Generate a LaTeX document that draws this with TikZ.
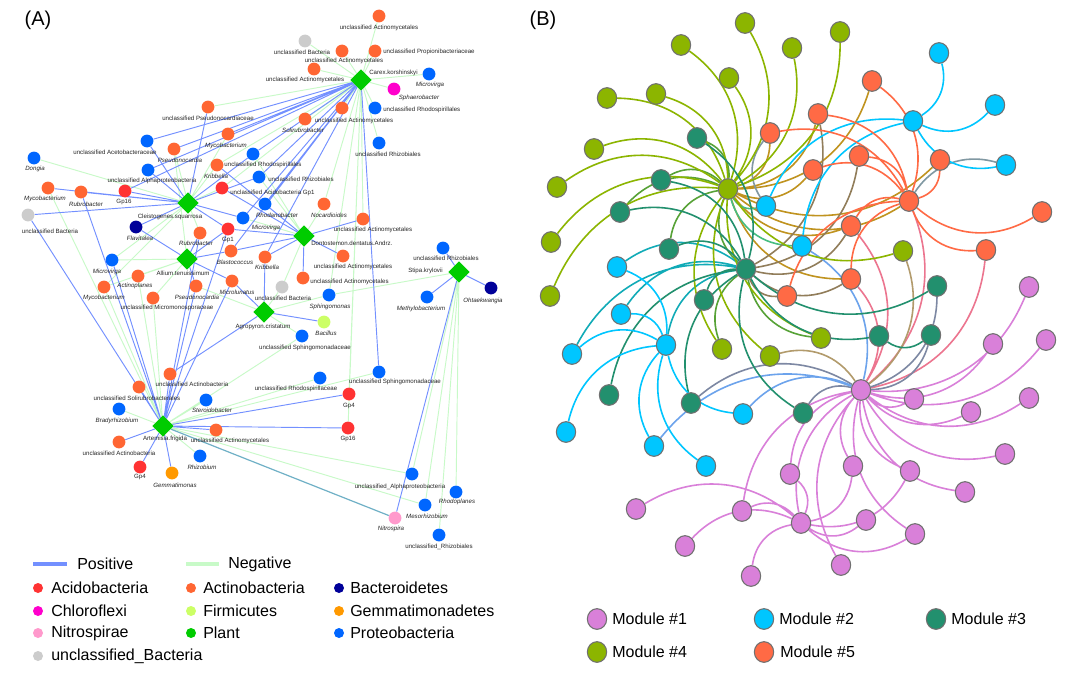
\documentclass[tikz,border=0pt]{standalone}
\usepackage{fontspec}
\setmainfont{Liberation Sans}
\usetikzlibrary{shapes.geometric}
\definecolor{cAcido}{HTML}{FF3333}
\definecolor{cActino}{HTML}{FF6633}
\definecolor{cBactero}{HTML}{000099}
\definecolor{cChloro}{HTML}{FF00CC}
\definecolor{cFirmi}{HTML}{CCFF66}
\definecolor{cGemma}{HTML}{FF9900}
\definecolor{cNitro}{HTML}{FF99CC}
\definecolor{cPlant}{HTML}{00CC00}
\definecolor{cProteo}{HTML}{0066FF}
\definecolor{cUnbac}{HTML}{CCCCCC}
\definecolor{cPos}{HTML}{7390FF}
\definecolor{cNeg}{HTML}{C8FAC8}
\definecolor{cBoth}{HTML}{6FB0C6}
\definecolor{m1}{HTML}{D980D9}
\definecolor{m2}{HTML}{00C6FF}
\definecolor{m3}{HTML}{22906E}
\definecolor{m4}{HTML}{8CB500}
\definecolor{m5}{HTML}{FF6A45}
\definecolor{cBord}{HTML}{707070}
\pgfdeclarelayer{bg}
\pgfsetlayers{bg,main}
\tikzset{
  tx/.style={circle, inner sep=0pt, minimum size=9.6pt},
  acido/.style={tx, fill=cAcido},
  actino/.style={tx, fill=cActino},
  bactero/.style={tx, fill=cBactero},
  chloro/.style={tx, fill=cChloro},
  firmi/.style={tx, fill=cFirmi},
  gemma/.style={tx, fill=cGemma},
  nitro/.style={tx, fill=cNitro},
  proteo/.style={tx, fill=cProteo},
  unbac/.style={tx, fill=cUnbac},
  plant/.style={diamond, aspect=1, inner sep=0pt, minimum size=16pt, fill=cPlant},
  lbl/.style={font=\fontsize{4.6}{5}\selectfont, inner sep=0pt, text=black!85},
  ilbl/.style={lbl, font=\fontsize{4.6}{5}\selectfont\itshape},
  poslink/.style={draw=cPos, line width=0.7pt},
  neglink/.style={draw=cNeg, line width=0.7pt},
  bothlink/.style={draw=cBoth, line width=0.9pt},
  bn/.style={ellipse, draw=cBord, line width=0.8pt, minimum width=14.5pt, minimum height=15.5pt, inner sep=0pt},
  mod1/.style={bn, fill=m1},
  mod2/.style={bn, fill=m2},
  mod3/.style={bn, fill=m3},
  mod4/.style={bn, fill=m4},
  mod5/.style={bn, fill=m5},
  bb/.style={line width=1.2pt},
  leg/.style={font=\fontsize{12}{14}\selectfont, anchor=west, inner sep=0pt},
  dot/.style={circle, inner sep=0pt, minimum size=7.5pt}
}
\begin{document}
\begin{tikzpicture}[x=0.75pt,y=-0.75pt]
\useasboundingbox (0,0) rectangle (1080,685);
\begin{pgfonlayer}{bg}
\fill[white] (0,0) rectangle (1080,685);
\end{pgfonlayer}

% (A) co-occurrence network
\node[font=\fontsize{15}{18}\selectfont] (pa) at (38,20) {(A)};

% plants
\node[plant] (carex) at (361,80) {};
\node[lbl, anchor=west] (carexl) at (369,73) {Carex.korshinskyi};
\node[plant] (cleis) at (188,203) {};
\node[lbl] (cleisl) at (170,217) {Cleistogenes.squarrosa};
\node[plant] (allium) at (187,259) {};
\node[lbl] (alliuml) at (183,273) {Allium.tenuissimum};
\node[plant] (donto) at (304,236) {};
\node[lbl, anchor=west] (dontol) at (311,243) {Dontostemon.dentatus.Andrz.};
\node[plant] (agro) at (264,312) {};
\node[lbl] (agrol) at (263,327) {Agropyron.cristatum};
\node[plant] (stipa) at (459,272) {};
\node[lbl, anchor=east] (stipal) at (443,271) {Stipa.krylovii};
\node[plant] (artem) at (163,426) {};
\node[lbl] (arteml) at (165,439) {Artemisia.frigida};

% taxa round Carex
\node[actino] (a1) at (379,16) {};
\node[lbl] (a1l) at (379,28) {unclassified Actinomycetales};
\node[unbac] (a2) at (305,41) {};
\node[lbl] (a2l) at (302,52) {unclassified Bacteria};
\node[actino] (a3) at (342,51) {};
\node[lbl] (a3l) at (344,61) {unclassified Actinomycetales};
\node[actino] (a4) at (375,51) {};
\node[lbl, anchor=west] (a4l) at (383,52) {unclassified Propionibacteriaceae};
\node[actino] (a5) at (314,69) {};
\node[lbl] (a5l) at (305,80) {unclassified Actinomycetales};
\node[proteo] (a6) at (429,74) {};
\node[ilbl] (a6l) at (430,85) {Microvirga};
\node[chloro] (a7) at (394,89) {};
\node[ilbl] (a7l) at (419,98) {Sphaerobacter};
\node[actino] (a8) at (342,108) {};
\node[lbl] (a8l) at (354,121) {unclassified Actinomycetales};
\node[proteo] (a9) at (375,108) {};
\node[lbl, anchor=west] (a9l) at (383,110) {unclassified Rhodospirillales};
\node[actino] (a10) at (305,119) {};
\node[ilbl] (a10l) at (303,130) {Solirubrobacter};
\node[proteo] (a11) at (379,143) {};
\node[lbl] (a11l) at (388,154) {unclassified Rhizobiales};

% taxa upper left
\node[actino] (b1) at (208,107) {};
\node[lbl] (b1l) at (208,118) {unclassified Pseudonocardiaceae};
\node[actino] (b2) at (228,134) {};
\node[ilbl] (b2l) at (226,146) {Mycobacterium};
\node[proteo] (b3) at (147,141) {};
\node[lbl] (b3l) at (115,152) {unclassified Acetobacteraceae};
\node[actino] (b4) at (174,149) {};
\node[ilbl] (b4l) at (180,160) {Pseudonocardia};
\node[proteo] (b5) at (253,154) {};
\node[lbl] (b5l) at (263,165) {unclassified Rhodospirillales};
\node[actino] (b6) at (217,165) {};
\node[ilbl] (b6l) at (216,176) {Kribbella};
\node[proteo] (b7) at (34,158) {};
\node[ilbl] (b7l) at (35,169) {Dongia};
\node[proteo] (b8) at (148,170) {};
\node[lbl] (b8l) at (152,181) {unclassified Alphaproteobacteria};
\node[proteo] (b9) at (259,177) {};
\node[lbl, anchor=west] (b9l) at (268,179) {unclassified Rhizobiales};
\node[acido] (b10) at (222,188) {};
\node[lbl, anchor=west] (b10l) at (230,193) {unclassified Acidobacteria Gp1};
\node[acido] (b11) at (125,191) {};
\node[lbl] (b11l) at (124,202) {Gp16};
\node[actino] (b12) at (48,188) {};
\node[ilbl] (b12l) at (45,199) {Mycobacterium};
\node[actino] (b13) at (81,192) {};
\node[ilbl] (b13l) at (86,204) {Rubrobacter};
\node[unbac] (b14) at (28,215) {};
\node[lbl] (b14l) at (50,231) {unclassified Bacteria};
\node[proteo] (b15) at (265,204) {};
\node[ilbl] (b15l) at (277,215) {Rhodanobacter};

% taxa in the middle
\node[bactero] (c1) at (136,227) {};
\node[ilbl] (c1l) at (140,238) {Flavitalea};
\node[actino] (c2) at (200,233) {};
\node[ilbl] (c2l) at (196,243) {Rubrobacter};
\node[acido] (c3) at (228,229) {};
\node[lbl] (c3l) at (228,240) {Gp1};
\node[proteo] (c4) at (243,218) {};
\node[ilbl] (c4l) at (266,228) {Microvirga};
\node[actino] (c5) at (231,251) {};
\node[ilbl] (c5l) at (235,262) {Blastococcus};
\node[proteo] (c6) at (112,260) {};
\node[ilbl] (c6l) at (107,272) {Microvirga};
\node[actino] (c7) at (138,276) {};
\node[ilbl] (c7l) at (135,286) {Actinoplanes};
\node[actino] (c8) at (104,287) {};
\node[ilbl] (c8l) at (104,298) {Mycobacterium};
\node[actino] (c9) at (153,298) {};
\node[lbl] (c9l) at (167,308) {unclassified Micromonosporaceae};
\node[actino] (c10) at (196,286) {};
\node[ilbl] (c10l) at (197,297) {Pseudonocardia};
\node[actino] (c11) at (232,281) {};
\node[ilbl] (c11l) at (237,292) {Microlunatus};
\node[actino] (c12) at (324,204) {};
\node[ilbl] (c12l) at (329,215) {Nocardioides};
\node[actino] (c13) at (363,219) {};
\node[lbl] (c13l) at (373,230) {unclassified Actinomycetales};
\node[actino] (c14) at (265,257) {};
\node[ilbl] (c14l) at (267,267) {Kribbella};
\node[actino] (c15) at (343,256) {};
\node[lbl] (c15l) at (353,267) {unclassified Actinomycetales};
\node[actino] (c16) at (303,278) {};
\node[lbl, anchor=west] (c16l) at (310,282) {unclassified Actinomycetales};
\node[unbac] (c17) at (282,287) {};
\node[lbl] (c17l) at (283,298) {unclassified Bacteria};
\node[proteo] (c18) at (329,295) {};
\node[ilbl] (c18l) at (330,307) {Sphingomonas};
\node[firmi] (c19) at (324,322) {};
\node[ilbl] (c19l) at (326,333) {Bacillus};
\node[proteo] (c20) at (302,336) {};
\node[lbl] (c20l) at (305,348) {unclassified Sphingomonadaceae};

% taxa round Stipa
\node[proteo] (d1) at (443,248) {};
\node[lbl] (d1l) at (446,258) {unclassified Rhizobiales};
\node[proteo] (d2) at (427,297) {};
\node[ilbl] (d2l) at (421,309) {Methylobacterium};
\node[bactero] (d3) at (491,288) {};
\node[ilbl] (d3l) at (483,301) {Ohtaekwangia};
\node[proteo] (d4) at (412,474) {};
\node[lbl] (d4l) at (400,487) {unclassified\_Alphaproteobacteria};
\node[proteo] (d5) at (456,492) {};
\node[ilbl] (d5l) at (457,502) {Rhodoplanes};
\node[proteo] (d6) at (425,505) {};
\node[ilbl] (d6l) at (427,516) {Mesorhizobium};
\node[nitro] (d7) at (395,518) {};
\node[ilbl] (d7l) at (391,529) {Nitrospira};
\node[proteo] (d8) at (439,535) {};
\node[lbl] (d8l) at (439,547) {unclassified\_Rhizobiales};

% taxa lower part
\node[proteo] (e1) at (320,378) {};
\node[lbl] (e1l) at (296,389) {unclassified Rhodospirillaceae};
\node[proteo] (e2) at (379,372) {};
\node[lbl] (e2l) at (395,382) {unclassified Sphingomonadaceae};
\node[acido] (e3) at (349,394) {};
\node[lbl] (e3l) at (349,406) {Gp4};
\node[acido] (e4) at (348,428) {};
\node[lbl] (e4l) at (348,439) {Gp16};
\node[actino] (e5) at (170,374) {};
\node[lbl] (e5l) at (192,384) {unclassified Actinobacteria};
\node[actino] (e6) at (139,387) {};
\node[lbl] (e6l) at (137,398) {unclassified Solirubrobacterales};
\node[proteo] (e7) at (206,400) {};
\node[ilbl] (e7l) at (212,410) {Steroidobacter};
\node[proteo] (e8) at (119,409) {};
\node[ilbl] (e8l) at (117,421) {Bradyrhizobium};
\node[actino] (e9) at (216,430) {};
\node[lbl] (e9l) at (230,441) {unclassified Actinomycetales};
\node[actino] (e10) at (119,442) {};
\node[lbl] (e10l) at (119,453) {unclassified Actinobacteria};
\node[proteo] (e11) at (200,456) {};
\node[ilbl] (e11l) at (202,467) {Rhizobium};
\node[acido] (e12) at (140,467) {};
\node[lbl] (e12l) at (140,477) {Gp4};
\node[gemma] (e13) at (172,473) {};
\node[ilbl] (e13l) at (175,485) {Gemmatimonas};

\begin{pgfonlayer}{bg}
% negative links
\draw[neglink] (carex) -- (a1) (carex) -- (a2) (carex) -- (a3) (carex) -- (a4) (carex) -- (a5) (carex) -- (a6) (carex) -- (a7) (carex) -- (a8) (carex) -- (a9) (carex) -- (a10) (carex) -- (a11) (carex) -- (b1) (carex) -- (b6) (carex) -- (b10) (carex) -- (c12) (carex) -- (c13) (carex) -- (e3) (carex) -- (e4) (carex) -- (c18);
\draw[neglink] (cleis) -- (b7) (cleis) -- (b4) (cleis) -- (b6) (cleis) -- (b10) (cleis) -- (c6) (cleis) -- (c8) (cleis) -- (b2) (cleis) -- (c2);
\draw[neglink] (allium) -- (c6) (allium) -- (c7) (allium) -- (c8) (allium) -- (c9) (allium) -- (b4);
\draw[neglink] (donto) -- (c12) (donto) -- (b9) (donto) -- (c4) (donto) -- (c17) (donto) -- (b5);
\draw[neglink] (agro) -- (c17) (agro) -- (c18) (agro) -- (c20) (agro) -- (c10);
\draw[neglink] (stipa) -- (d4) (stipa) -- (d5) (stipa) -- (d6) (stipa) -- (d8) (stipa) -- (c18);
\draw[neglink] (artem) -- (e8) (artem) -- (e11) (artem) -- (e7) (artem) -- (e1) (artem) -- (e2) (artem) -- (d4) (artem) -- (d6) (artem) -- (b12) (artem) -- (c7) (artem) -- (c8) (artem) -- (c9) (artem) -- (c20);
% positive links
\draw[poslink] (carex) -- (b2) (carex) -- (b3) (carex) -- (b4) (carex) -- (b8) (carex) -- (b11) (carex) -- (b5) (carex) -- (b9) (carex) -- (b15) (carex) -- (c4) (carex) -- (c14) (carex) -- (c5) (carex) -- (e2);
\draw[poslink] (cleis) -- (b11) (cleis) -- (b13) (cleis) -- (b12) (cleis) -- (b14) (cleis) -- (c1) (cleis) -- (b1) (cleis) -- (b3) (cleis) -- (b5) (cleis) -- (b9) (cleis) -- (c3) (cleis) -- (c4) (cleis) -- (b8);
\draw[poslink] (allium) -- (c1) (allium) -- (c2) (allium) -- (c5) (allium) -- (c10) (allium) -- (c11) (allium) -- (c3);
\draw[poslink] (donto) -- (c13) (donto) -- (c15) (donto) -- (c14) (donto) -- (c16) (donto) -- (b15) (donto) -- (b10) (donto) -- (c3) (donto) -- (c5) (donto) -- (b6);
\draw[poslink] (agro) -- (c11) (agro) -- (c19) (agro) -- (c14) (agro) -- (e5);
\draw[poslink] (stipa) -- (d1) (stipa) -- (d2) (stipa) -- (d3) (stipa) -- (d7);
\draw[poslink] (artem) -- (e5) (artem) -- (e6) (artem) -- (e10) (artem) -- (e12) (artem) -- (e13) (artem) -- (e9) (artem) -- (e4) (artem) -- (e3) (artem) -- (b14) (artem) -- (b13) (artem) -- (c6) (artem) -- (c2) (artem) -- (c10) (artem) -- (c3) (artem) -- (c11);
\draw[bothlink] (artem) -- (d7);
\end{pgfonlayer}

% legend (A)
\coordinate (lp1) at (33,564);
\coordinate (lp2) at (67,564);
\draw[draw=cPos, line width=3pt] (lp1) -- (lp2);
\node[leg] (lpos) at (77,564) {Positive};
\coordinate (ln1) at (186,564);
\coordinate (ln2) at (219,564);
\draw[draw=cNeg, line width=3pt] (ln1) -- (ln2);
\node[leg] (lneg) at (228,564) {Negative};
\node[dot, fill=cAcido] (k1) at (38,588) {};
\node[leg] (k1t) at (51,588) {Acidobacteria};
\node[dot, fill=cActino] (k2) at (191,588) {};
\node[leg] (k2t) at (203,588) {Actinobacteria};
\node[dot, fill=cBactero] (k3) at (339,588) {};
\node[leg] (k3t) at (350,588) {Bacteroidetes};
\node[dot, fill=cChloro] (k4) at (38,611) {};
\node[leg] (k4t) at (51,611) {Chloroflexi};
\node[dot, fill=cFirmi] (k5) at (191,611) {};
\node[leg] (k5t) at (203,611) {Firmicutes};
\node[dot, fill=cGemma] (k6) at (339,611) {};
\node[leg] (k6t) at (350,611) {Gemmatimonadetes};
\node[dot, fill=cNitro] (k7) at (38,633) {};
\node[leg] (k7t) at (51,633) {Nitrospirae};
\node[dot, fill=cPlant] (k8) at (191,633) {};
\node[leg] (k8t) at (203,633) {Plant};
\node[dot, fill=cProteo] (k9) at (339,633) {};
\node[leg] (k9t) at (350,633) {Proteobacteria};
\node[dot, fill=cUnbac] (k10) at (38,656) {};
\node[leg] (k10t) at (51,656) {unclassified\_Bacteria};

% (B) modules
\node[font=\fontsize{15}{18}\selectfont] (pb) at (543,20) {(B)};

% module 4
\node[mod4] (g0) at (728,189) {};
\node[mod4] (g1) at (745,23) {};
\node[mod4] (g2) at (681,45) {};
\node[mod4] (g3) at (792,48) {};
\node[mod4] (g4) at (840,32) {};
\node[mod4] (g5) at (729,78) {};
\node[mod4] (g6) at (607,98) {};
\node[mod4] (g7) at (656,94) {};
\node[mod4] (g8) at (594,149) {};
\node[mod4] (g9) at (557,187) {};
\node[mod4] (g10) at (551,242) {};
\node[mod4] (g11) at (550,296) {};
\node[mod4] (g12) at (903,251) {};
\node[mod4] (g13) at (722,349) {};
\node[mod4] (g14) at (770,356) {};
\node[mod4] (g15) at (821,338) {};
% module 3
\node[mod3] (t0) at (746,269) {};
\node[mod3] (t1) at (697,138) {};
\node[mod3] (t2) at (661,180) {};
\node[mod3] (t3) at (620,212) {};
\node[mod3] (t4) at (669,249) {};
\node[mod3] (t5) at (704,300) {};
\node[mod3] (t6) at (937,286) {};
\node[mod3] (t7) at (609,395) {};
\node[mod3] (t8) at (691,403) {};
\node[mod3] (t9) at (803,413) {};
\node[mod3] (t10) at (879,336) {};
\node[mod3] (t11) at (931,335) {};
% module 2
\node[mod2] (s0) at (666,345) {};
\node[mod2] (s1) at (939,53) {};
\node[mod2] (s2) at (995,105) {};
\node[mod2] (s3) at (913,121) {};
\node[mod2] (s4) at (1006,165) {};
\node[mod2] (s5) at (766,206) {};
\node[mod2] (s6) at (802,246) {};
\node[mod2] (s7) at (617,267) {};
\node[mod2] (s8) at (621,314) {};
\node[mod2] (s9) at (572,354) {};
\node[mod2] (s10) at (566,432) {};
\node[mod2] (s11) at (654,446) {};
\node[mod2] (s12) at (706,466) {};
\node[mod2] (s13) at (743,414) {};
% module 5
\node[mod5] (o0) at (909,201) {};
\node[mod5] (o1) at (872,81) {};
\node[mod5] (o2) at (818,114) {};
\node[mod5] (o3) at (770,133) {};
\node[mod5] (o4) at (859,156) {};
\node[mod5] (o5) at (813,170) {};
\node[mod5] (o6) at (940,160) {};
\node[mod5] (o7) at (1042,212) {};
\node[mod5] (o8) at (851,226) {};
\node[mod5] (o9) at (986,250) {};
\node[mod5] (o10) at (851,279) {};
\node[mod5] (o11) at (787,296) {};
% module 1
\node[mod1] (p0) at (861,390) {};
\node[mod1] (p1) at (1029,287) {};
\node[mod1] (p2) at (993,344) {};
\node[mod1] (p3) at (1046,340) {};
\node[mod1] (p4) at (914,399) {};
\node[mod1] (p5) at (971,412) {};
\node[mod1] (p6) at (1029,398) {};
\node[mod1] (p7) at (1005,454) {};
\node[mod1] (p8) at (910,471) {};
\node[mod1] (p9) at (965,492) {};
\node[mod1] (p10) at (853,466) {};
\node[mod1] (p11) at (790,474) {};
\node[mod1] (p12) at (636,509) {};
\node[mod1] (p13) at (742,511) {};
\node[mod1] (q0) at (801,523) {};
\node[mod1] (p14) at (866,520) {};
\node[mod1] (p15) at (915,534) {};
\node[mod1] (p16) at (685,546) {};
\node[mod1] (p17) at (751,576) {};
\node[mod1] (p18) at (841,565) {};

\begin{pgfonlayer}{bg}
\begin{scope}[every to/.style={bend right=36}]
\draw[bb, m4!55!m5] (g0) to (o0) (g0) to (o1) (g0) to (o2) (g0) to (o3) (g0) to (o5) (g0) to (o6) (g0) to (o8) (g0) to (o10);
\draw[bb, m4!50!m3] (g0) to (t0) (g0) to (t1) (g0) to (t2) (g0) to (t3) (g0) to (t4) (t0) to (g13) (t0) to (g15);
\draw[bb, m4!50!m2] (g0) to (s6) (g0) to (s5);
\draw[bb, m3!50!m5] (t0) to (o2) (t0) to (o4) (t0) to (o8) (t0) to (o10) (t0) to (o11);
\draw[bb, m3!50!m2] (t0) to (s7) (t0) to (s8) (t0) to (s0) (t0) to (s9);
\draw[bb, m2!50!m5] (s4) to (o0) (o3) to (s5);
\draw[bb, m5!50!m1] (p0) to (o0) (p0) to (o8) (p0) to (o9) (p0) to (o10);
\draw[bb, m4!50!m1] (p0) to (g12) (p0) to (g14);
\draw[bb, m3!50!m1] (p0) to (t8) (p0) to (t9) (p0) to (t6) (p0) to (t11);
\draw[bb, m2!50!m1] (p0) to (s6) (p0) to (s11) (p0) to (s13);
\draw[bb, m4] (g0) to (g1) (g0) to (g2) (g0) to (g3) (g0) to (g4) (g0) to (g5) (g0) to (g6) (g0) to (g7) (g0) to (g8) (g0) to (g9) (g0) to (g10) (g0) to (g11) (g0) to (g12) (g0) to (g13) (g0) to (g14) (g0) to (g15);
\draw[bb, m3] (t0) to (t1) (t0) to (t2) (t0) to (t3) (t0) to (t4) (t0) to (t5) (t0) to (t6) (t0) to (t7) (t0) to (t8) (t0) to (t9) (t0) to (t10) (t10) to (t11);
\draw[bb, m2] (s3) to (s1) (s3) to (s2) (s3) to (s4) (s3) to (s5) (s3) to (s6) (s0) to (s7) (s0) to (s8) (s0) to (s9) (s0) to (s10) (s0) to (s11) (s0) to (s12) (s0) to (s13);
\draw[bb, m5] (o0) to (o1) (o0) to (o2) (o0) to (o3) (o0) to (o4) (o0) to (o5) (o0) to (o6) (o0) to (o7) (o0) to (o8) (o0) to (o9) (o0) to (o10) (o0) to (o11);
\draw[bb, m1] (p0) to (p1) (p0) to (p2) (p0) to (p3) (p0) to (p4) (p0) to (p5) (p0) to (p6) (p0) to (p7) (p0) to (p8) (p0) to (p9) (p0) to (p10) (p0) to (p11) (p0) to (p13) (p0) to (p15) (p0) to (p18) (p0) to (q0);
\draw[bb, m1] (q0) to (p12) (q0) to (p13) (q0) to (p16) (q0) to (p17) (q0) to (p14) (q0) to (p15) (q0) to (p8) (q0) to (p10) (q0) to (p11);
\end{scope}
\end{pgfonlayer}

% legend (B)
\node[mod1] (n1) at (597,619) {};
\node[leg] (n1t) at (612,619) {Module \#1};
\node[mod2] (n2) at (764,619) {};
\node[leg] (n2t) at (779,619) {Module \#2};
\node[mod3] (n3) at (936,619) {};
\node[leg] (n3t) at (951,619) {Module \#3};
\node[mod4] (n4) at (597,652) {};
\node[leg] (n4t) at (612,652) {Module \#4};
\node[mod5] (n5) at (764,652) {};
\node[leg] (n5t) at (780,652) {Module \#5};
\end{tikzpicture}
\end{document}
